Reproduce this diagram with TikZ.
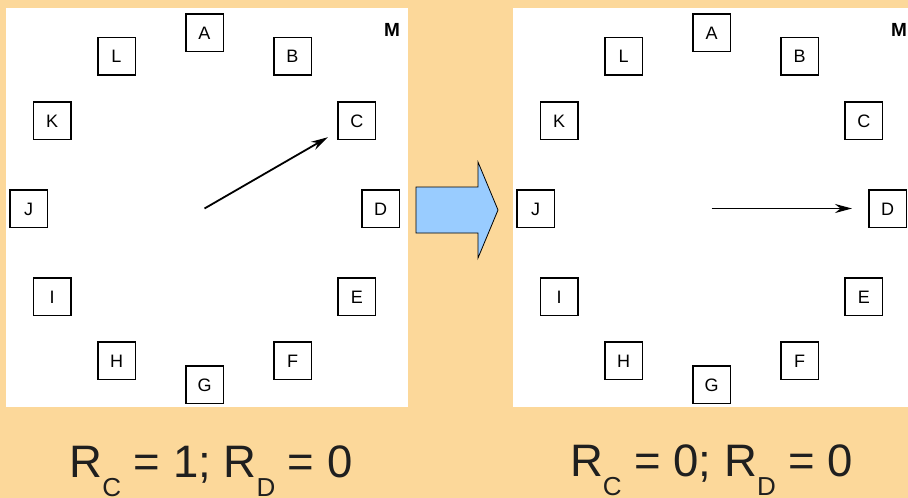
\documentclass[tikz,border=0pt]{standalone}
\usepackage{fontspec}
\setmainfont{Liberation Sans}
\usetikzlibrary{arrows.meta,calc}
\definecolor{fondo}{RGB}{252,216,154}
\definecolor{azul}{RGB}{153,204,255}
\tikzset{
  caja/.style={draw, line width=1.5pt, minimum size=37.5pt, inner sep=0pt,
    text height=13pt, text depth=0pt, font=\fontsize{18}{18}\selectfont},
  aguja/.style={-{Stealth[length=17pt, width=9pt]}, line width=1.8pt},
  rotulo/.style={anchor=base, inner sep=0pt, text=black!88,
    font=\fontsize{45.5}{46}\selectfont}}
\newcommand{\bajo}[1]{\raisebox{-19pt}{\fontsize{26}{26}\selectfont #1}}
\newcommand{\esfera}[2]{%
  \begin{scope}[shift={(#1)}]
    \fill[white] (6,8) rectangle (408,407);
    \coordinate (#2o) at (204.5,208.5);
    \foreach \l [count=\k from 0] in {A,...,L}
      \node[caja] (#2\l) at ([shift={(30*\k-90:176)}]#2o) {\l};
    \node[font=\bfseries\fontsize{19}{19}\selectfont] (#2M) at (392,30) {M};
  \end{scope}}

\begin{document}
\begin{tikzpicture}[x=1pt, y=-1pt]
  \useasboundingbox (0,0) rectangle (908,498);
  \fill[fondo] (0,0) rectangle (908,498);
  \esfera{0,0}{L}
  \esfera{507,0}{R}
  % manecilla antes y despues
  \draw[aguja, shorten >=11pt] (Lo) -- (LC);
  \draw[aguja, shorten >=16pt] (Ro) -- (RD);
  % flecha grande
  \draw[fill=azul, line width=0.8pt] (416,187) -- (478,187) -- (478,162) -- (498,210)
    -- (478,258) -- (478,233) -- (416,233) -- cycle;
  \node[rotulo] (rL) at (211,477) {R\bajo{C} = 1; R\bajo{D} = 0};
  \node[rotulo] (rR) at (711.5,476) {R\bajo{C} = 0; R\bajo{D} = 0};
\end{tikzpicture}
\end{document}
